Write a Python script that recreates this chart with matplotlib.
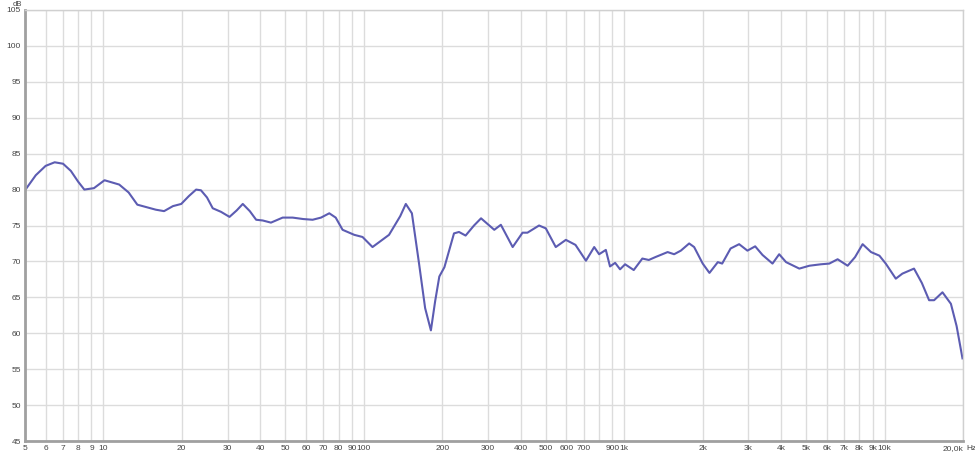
import matplotlib
matplotlib.use("Agg")
import matplotlib.pyplot as plt
from matplotlib.ticker import FixedLocator, NullLocator

# frequency response (Hz, dB)
freq = [5.0, 5.5, 6.0, 6.5, 7.0, 7.5, 8.0, 8.45, 9.2, 10.1, 11.5, 12.5, 13.5,
        15.9, 17.1, 18.5, 19.9, 21.3, 22.7, 23.7, 25.0, 26.3, 28.3, 30.5,
        32.5, 34.3, 36.5, 38.6, 40.9, 44.0, 48.8, 53.3, 58.5, 63.6, 68.5, 73.7,
        78.0, 82.9, 91.9, 98.9, 108, 125, 138, 145, 153, 163, 172, 181, 188,
        195, 204, 222, 232, 246, 265, 282, 317, 336, 373, 407, 425, 471, 500,
        546, 597, 650, 713, 767, 801, 850, 882, 923, 964, 1008, 1088, 1174,
        1243, 1317, 1468, 1555, 1650, 1776, 1856, 2002, 2125, 2288, 2378,
        2562, 2763, 2973, 3184, 3397, 3711, 3936, 4184, 4704, 5141, 5690,
        6133, 6600, 7211, 7700, 8233, 8870, 9550, 10100, 11040, 11700, 12970,
        13900, 14820, 15490, 16680, 17970, 18900, 19910]
spl = [79.9, 82.0, 83.3, 83.8, 83.6, 82.6, 81.1, 80.0, 80.2, 81.3, 80.7,
       79.6, 77.9, 77.2, 77.0, 77.7, 78.0, 79.1, 80.0, 79.9, 78.9, 77.4,
       76.9, 76.2, 77.1, 78.0, 77.0, 75.8, 75.7, 75.4, 76.1, 76.1, 75.9,
       75.8, 76.1, 76.7, 76.1, 74.4, 73.7, 73.4, 72.0, 73.7, 76.3, 78.0,
       76.7, 69.7, 63.5, 60.4, 64.5, 67.9, 69.2, 73.9, 74.1, 73.6, 75.0,
       76.0, 74.4, 75.1, 72.0, 74.0, 74.0, 75.0, 74.6, 72.0, 73.0, 72.3,
       70.1, 72.0, 71.0, 71.6, 69.3, 69.8, 68.9, 69.6, 68.8, 70.4, 70.2,
       70.6, 71.3, 71.0, 71.5, 72.5, 72.0, 69.7, 68.4, 69.9, 69.7, 71.8,
       72.4, 71.5, 72.1, 70.9, 69.7, 71.0, 69.9, 69.0, 69.4, 69.6, 69.7,
       70.3, 69.4, 70.6, 72.4, 71.3, 70.8, 69.7, 67.6, 68.3, 69.0, 67.0,
       64.6, 64.6, 65.7, 64.1, 61.0, 56.5]

x_major = [5, 6, 7, 8, 9, 10, 20, 30, 40, 50, 60, 70, 80, 90, 100,
           200, 300, 400, 500, 600, 700, 800, 900, 1000,
           2000, 3000, 4000, 5000, 6000, 7000, 8000, 9000, 10000, 20000]
x_labels = ["5", "6", "7", "8", "9", "10", "20", "30", "40", "50", "60", "70",
            "80", "90", "100", "200", "300", "400", "500", "600", "700", "",
            "900", "1k", "2k", "3k", "4k", "5k", "6k", "7k", "8k", "9k", "10k",
            "20,0k"]
y_ticks = list(range(45, 106, 5))

plt.rcParams['font.family'] = ['Liberation Sans', 'DejaVu Sans']

fig = plt.figure(figsize=(9.75, 4.53), dpi=100)
ax = fig.add_axes([25 / 975, 1 - 441 / 453, 938 / 975, 431 / 453])

ax.plot(freq, spl, color='#5c5cb2', linewidth=1.5, solid_joinstyle='round')

ax.set_xscale('log')
ax.set_xlim(5, 20000)
ax.set_ylim(45, 105)
ax.xaxis.set_major_locator(FixedLocator(x_major))
ax.xaxis.set_minor_locator(NullLocator())
ax.set_xticklabels(x_labels)
ax.set_yticks(y_ticks)
ax.set_yticklabels([str(v) for v in y_ticks])

ax.grid(True, color='#dcdcdc', linewidth=1.0)
ax.set_axisbelow(True)
ax.tick_params(length=0, labelsize=6, colors='#444444', pad=3)
ax.xaxis.get_majorticklabels()[-1].set_horizontalalignment('right')

for side in ['top', 'right']:
    ax.spines[side].set_color('#d0d0d0')
    ax.spines[side].set_linewidth(1.0)
for side in ['left', 'bottom']:
    ax.spines[side].set_color('#a0a0a0')
    ax.spines[side].set_linewidth(2.0)

fig.text(13 / 975, 1 - 4 / 453, "dB", fontsize=5.5, color='#444444',
         va='center', ha='left')
fig.text(966 / 975, 1 - 448 / 453, "Hz", fontsize=6, color='#444444',
         va='center', ha='left')

fig.savefig("out.png", dpi=100)
